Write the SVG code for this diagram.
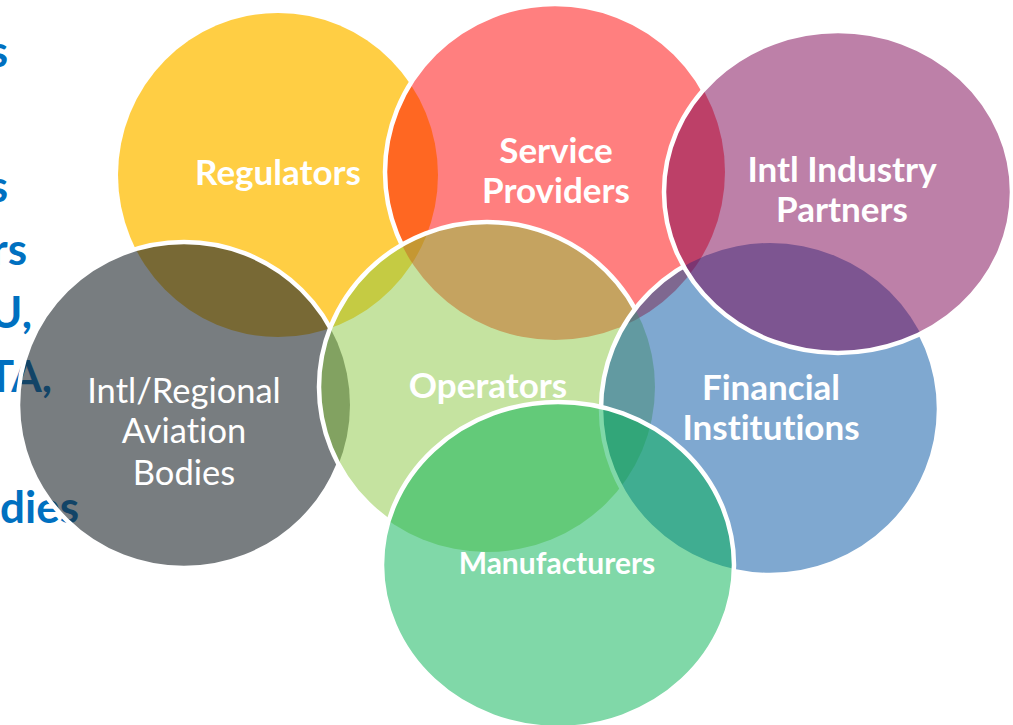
<svg xmlns="http://www.w3.org/2000/svg" width="1013" height="725" viewBox="0 0 1013 725">
<style>
text{font-variant-ligatures:none}
.bg{font-family:Lato,"Open Sans","Liberation Sans",sans-serif;font-weight:bold;font-size:44px;fill:#0070C0;text-anchor:end}
.lbl{font-family:Lato,"Open Sans","Liberation Sans",sans-serif;font-weight:bold;font-size:35px;fill:#fff;text-anchor:middle}
.reg{font-weight:normal;font-size:34.5px}
.st{fill:none;stroke:#fff;stroke-width:4.5}
</style>
<defs>
<mask id="mRed" maskUnits="userSpaceOnUse" x="0" y="0" width="1013" height="725">
<rect width="1013" height="725" fill="#fff"/>
<ellipse cx="487" cy="387" rx="168" ry="165" fill="#000"/>
<ellipse cx="770" cy="409" rx="169" ry="166" fill="#000"/>
<ellipse cx="838" cy="192" rx="174" ry="161" fill="#000"/>
</mask>
<mask id="mGray" maskUnits="userSpaceOnUse" x="0" y="0" width="1013" height="725">
<rect width="1013" height="725" fill="#fff"/>
<ellipse cx="487" cy="387" rx="168" ry="165" fill="#000"/>
</mask>
<mask id="mOps" maskUnits="userSpaceOnUse" x="0" y="0" width="1013" height="725">
<rect width="1013" height="725" fill="#fff"/>
<ellipse cx="770" cy="409" rx="169" ry="166" fill="#000"/>
<ellipse cx="558" cy="565" rx="176" ry="163" fill="#000"/>
</mask>
<mask id="mBlue" maskUnits="userSpaceOnUse" x="0" y="0" width="1013" height="725">
<rect width="1013" height="725" fill="#fff"/>
<ellipse cx="838" cy="192" rx="174" ry="161" fill="#000"/>
</mask>
</defs>
<rect width="1013" height="725" fill="#fff"/>
<g id="background-text">
<text class="bg" x="8" y="67">s</text>
<text class="bg" x="8" y="202">s</text>
<text class="bg" x="27" y="265">rs</text>
<text class="bg" x="32" y="328">U,</text>
<text class="bg" x="52" y="392">TA,</text>
<text class="bg" x="79" y="523">dies</text>
</g>
<g id="regulators">
<ellipse cx="278" cy="175" rx="160" ry="162" fill="#FFCE44"/>
<text class="lbl" x="278" y="185">Regulators</text>
</g>
<g id="service-providers">
<ellipse cx="555" cy="172" rx="170" ry="168" fill="#FF0000" fill-opacity="0.5"/>
<ellipse class="st" cx="555" cy="172" rx="170" ry="168" mask="url(#mRed)"/>
<text class="lbl" x="556" y="163">Service</text>
<text class="lbl" x="556" y="203">Providers</text>
</g>
<g id="intl-regional-aviation-bodies">
<ellipse cx="184" cy="405" rx="166" ry="163" fill="rgb(30,38,43)" fill-opacity="0.6"/>
<ellipse class="st" cx="184" cy="405" rx="166" ry="163" mask="url(#mGray)"/>
<text class="lbl reg" x="184" y="403">Intl/Regional</text>
<text class="lbl reg" x="184" y="443">Aviation</text>
<text class="lbl reg" x="184" y="485">Bodies</text>
</g>
<g id="operators">
<ellipse cx="487" cy="387" rx="168" ry="165" fill="rgb(139,199,66)" fill-opacity="0.5"/>
<ellipse class="st" cx="487" cy="387" rx="168" ry="165" mask="url(#mOps)"/>
<text class="lbl" x="488" y="398">Operators</text>
</g>
<g id="financial-institutions">
<ellipse cx="770" cy="409" rx="169" ry="166" fill="rgb(0,81,161)" fill-opacity="0.5"/>
<ellipse class="st" cx="770" cy="409" rx="169" ry="166" mask="url(#mBlue)"/>
<text class="lbl" x="771" y="400">Financial</text>
<text class="lbl" x="771" y="440">Institutions</text>
</g>
<g id="intl-industry-partners">
<ellipse cx="838" cy="192" rx="174" ry="161" fill="rgb(123,1,81)" fill-opacity="0.5"/>
<ellipse class="st" cx="838" cy="192" rx="174" ry="161"/>
<text class="lbl" x="842" y="182">Intl Industry</text>
<text class="lbl" x="842" y="222">Partners</text>
</g>
<g id="manufacturers">
<ellipse cx="558" cy="565" rx="176" ry="163" fill="rgb(1,177,81)" fill-opacity="0.5"/>
<ellipse class="st" cx="558" cy="565" rx="176" ry="163"/>
<text class="lbl" x="557" y="574" style="font-size:30px">Manufacturers</text>
</g>
<g id="connectors"/>
</svg>
